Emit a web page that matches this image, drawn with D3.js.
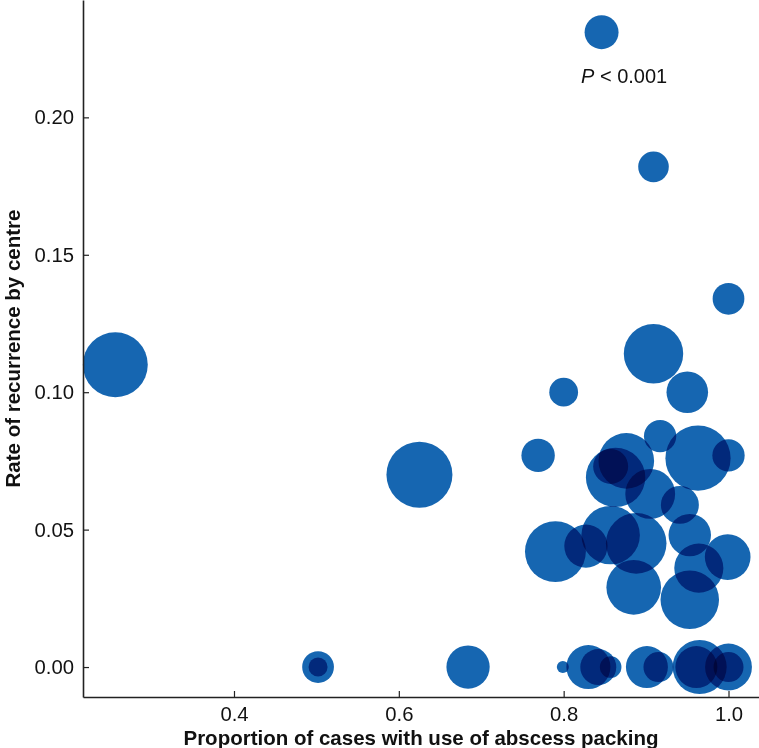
<!DOCTYPE html>
<html>
<head>
<meta charset="utf-8">
<script src="https://cdn.jsdelivr.net/npm/d3@7"></script>
<style>
  html, body { margin: 0; padding: 0; background: #fff; }
  svg { display: block; }
</style>
</head>
<body>
<svg id="chart" width="759" height="748"></svg>
<script>
// Proportion of cases with abscess packing (x), recurrence rate (y), centre case count (size)
const packing = [0.846, 0.909, 1.000, 0.256, 0.909, 0.950, 0.800, 0.769, 0.917, 0.963,
                 1.000, 0.876, 0.857, 0.863, 0.905, 0.941, 0.790, 0.827, 0.857, 0.888,
                 0.885, 0.953, 0.964, 0.999, 0.953, 0.625,
                 0.502, 0.502, 0.684, 0.799, 0.830, 0.842, 0.857, 0.901, 0.915,
                 0.965, 0.961, 1.000, 1.000];
const recurrence = [0.231, 0.182, 0.134, 0.110, 0.114, 0.100, 0.100, 0.077, 0.084, 0.076,
                    0.077, 0.075, 0.073, 0.069, 0.063, 0.059, 0.042, 0.044, 0.048, 0.045,
                    0.029, 0.048, 0.036, 0.040, 0.0245, 0.070,
                    0, 0, 0, 0, 0, 0, 0, 0, 0,
                    0, 0, 0, 0];
const cases = [32, 26, 28, 117, 98, 48, 23, 31, 29, 118,
               29, 86, 34, 98, 69, 40, 103, 52, 95, 102,
               83, 50, 67, 58, 95, 121,
               28, 10, 52, 4, 54, 36, 13, 49, 25,
               81, 49, 61, 25];
const xTicks = [0.4, 0.6, 0.8, 1.0];
const yTicks = [0.00, 0.05, 0.10, 0.15, 0.20];
const xLabel = "Proportion of cases with use of abscess packing";
const yLabel = "Rate of recurrence by centre";
const pLabel = ["P", " < 0.001"];

const data = packing.map((p, i) => ({x: p, y: recurrence[i], n: cases[i]}));

const W = 759, H = 748;
const margin = {left: 83, right: 0, top: 0, bottom: 51};
const svg = d3.select("#chart");

const x = d3.scaleLinear().domain([0.2168, 1.037]).range([margin.left, W - margin.right]);
const y = d3.scaleLinear().domain([-0.0109, 0.2427]).range([H - margin.bottom, margin.top]);
const r = d3.scaleSqrt().domain([0, 121]).range([0, 33]);

const font = "'Liberation Sans', Arial, Helvetica, sans-serif";

// bubbles
const g = svg.append("g").style("isolation", "isolate");
g.selectAll("circle").data(data).join("circle")
  .attr("cx", d => x(d.x))
  .attr("cy", d => y(d.y))
  .attr("r", d => r(d.n))
  .attr("fill", "#1666b1")
  .style("mix-blend-mode", "multiply");

// axes
const xAxis = d3.axisBottom(x).tickValues(xTicks).tickFormat(d3.format(".1f"))
  .tickSize(-6).tickSizeOuter(0).tickPadding(9.5);
const yAxis = d3.axisLeft(y).tickValues(yTicks).tickFormat(d3.format(".2f"))
  .tickSize(-6).tickSizeOuter(0).tickPadding(9);

const gx = svg.append("g").attr("transform", `translate(0,${H - margin.bottom})`).call(xAxis);
const gy = svg.append("g").attr("transform", `translate(${margin.left},0)`).call(yAxis);
[gx, gy].forEach(a => {
  a.select(".domain").attr("stroke", "#222").attr("stroke-width", 1.6);
  a.selectAll(".tick line").attr("stroke", "#222").attr("stroke-width", 1.2);
  a.selectAll(".tick text").attr("font-family", font).attr("font-size", 20.3).attr("fill", "#111");
});

// axis titles (centred on the plot area)
const plotCx = (margin.left + W - margin.right) / 2;
const plotCy = (margin.top + H - margin.bottom) / 2;
svg.append("text")
  .attr("x", plotCx).attr("y", 744.5)
  .attr("text-anchor", "middle")
  .attr("font-family", font).attr("font-weight", "bold").attr("font-size", 20.5)
  .attr("fill", "#111")
  .text(xLabel);

svg.append("text")
  .attr("transform", `translate(19.5,${plotCy}) rotate(-90)`)
  .attr("text-anchor", "middle")
  .attr("font-family", font).attr("font-weight", "bold").attr("font-size", 20.5)
  .attr("fill", "#111")
  .text(yLabel);

// P value annotation
const pt = svg.append("text")
  .attr("x", 581).attr("y", 83)
  .attr("font-family", font).attr("font-size", 20).attr("fill", "#111");
pt.append("tspan").attr("font-style", "italic").text(pLabel[0]);
pt.append("tspan").text(pLabel[1]);
</script>
</body>
</html>
